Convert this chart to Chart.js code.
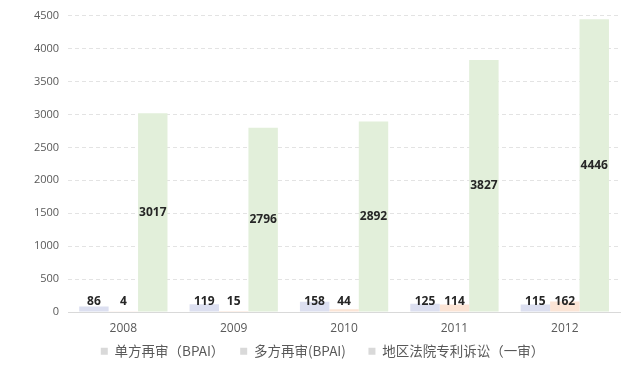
<!DOCTYPE html>
<html>
<head>
<meta charset="utf-8">
<script src="https://cdn.jsdelivr.net/npm/chart.js@4"></script>
<style>
  html, body { margin: 0; padding: 0; background: #ffffff; }
  #wrap { width: 640px; height: 376px; }
</style>
</head>
<body>
<div id="wrap"><canvas id="chart" width="640" height="376"></canvas></div>
<script>
// years on the x axis
const years = ['2008', '2009', '2010', '2011', '2012'];

// series values
const singleBpai = [86, 119, 158, 125, 115];
const multiBpai = [4, 15, 44, 114, 162];
const districtCourt = [3017, 2796, 2892, 3827, 4446];

const seriesNames = ['单方再审（BPAI）', '多方再审(BPAI)', '地区法院专利诉讼（一审）'];
const seriesColors = ['#dcdff0', '#fbe4d5', '#e2efda'];

// value labels: small bars sit just above the zero line, tall bars in the middle
const valueLabels = {
    id: 'valueLabels',
    afterDatasetsDraw(chart) {
        const ctx = chart.ctx;
        const yScale = chart.scales.y;
        ctx.save();
        ctx.font = 'bold 12px "Open Sans", sans-serif';
        ctx.textAlign = 'center';
        ctx.textBaseline = 'middle';
        chart.data.datasets.forEach((ds, i) => {
            const meta = chart.getDatasetMeta(i);
            meta.data.forEach((bar, j) => {
                let y;
                if (i === 2) {
                    y = (bar.y + bar.base) / 2;
                } else {
                    y = yScale.getPixelForValue(0) - 11;
                }
                ctx.fillStyle = '#262626';
                ctx.fillText(String(ds.data[j]), bar.x, y);
            });
        });
        ctx.restore();
    }
};

const data = {
    labels: years,
    datasets: [
        { label: seriesNames[0], data: singleBpai, backgroundColor: seriesColors[0] },
        { label: seriesNames[1], data: multiBpai, backgroundColor: seriesColors[1] },
        { label: seriesNames[2], data: districtCourt, backgroundColor: seriesColors[2] }
    ]
};

const config = {
    type: 'bar',
    data: data,
    options: {
        responsive: false,
        animation: false,
        datasets: {
            bar: { categoryPercentage: 0.8, barPercentage: 1.0 }
        },
        layout: {
            padding: { top: 8, right: 20, left: 25, bottom: 8 }
        },
        scales: {
            x: {
                grid: { display: false, drawTicks: false },
                border: { display: true, color: '#d9d9d9', width: 1 },
                ticks: {
                    color: '#595959',
                    font: { family: '"Open Sans", sans-serif', size: 12 },
                    padding: 9
                }
            },
            y: {
                min: 0,
                max: 4500,
                grid: { color: '#e3e3e3', drawTicks: false },
                border: { display: false, dash: [4, 3] },
                ticks: {
                    stepSize: 500,
                    color: '#595959',
                    font: { family: '"Open Sans", sans-serif', size: 11 },
                    padding: 9,
                    callback: value => String(value)
                }
            }
        },
        plugins: {
            legend: {
                position: 'bottom',
                labels: {
                    boxWidth: 7,
                    boxHeight: 7,
                    padding: 0,
                    color: '#595959',
                    font: { family: '"Noto Sans CJK SC", sans-serif', size: 13.5 },
                    generateLabels(chart) {
                        const n = chart.data.datasets.length;
                        return chart.data.datasets.map((ds, i) => ({
                            // trailing spaces keep the gap between legend items
                            text: i < n - 1 ? ds.label + '\u3000   ' : ds.label,
                            fillStyle: '#d9d9d9',
                            strokeStyle: '#d9d9d9',
                            lineWidth: 0,
                            fontColor: '#595959',
                            datasetIndex: i
                        }));
                    }
                }
            },
            tooltip: { enabled: false }
        }
    },
    plugins: [valueLabels]
};

new Chart(document.getElementById('chart'), config);
</script>
</body>
</html>
